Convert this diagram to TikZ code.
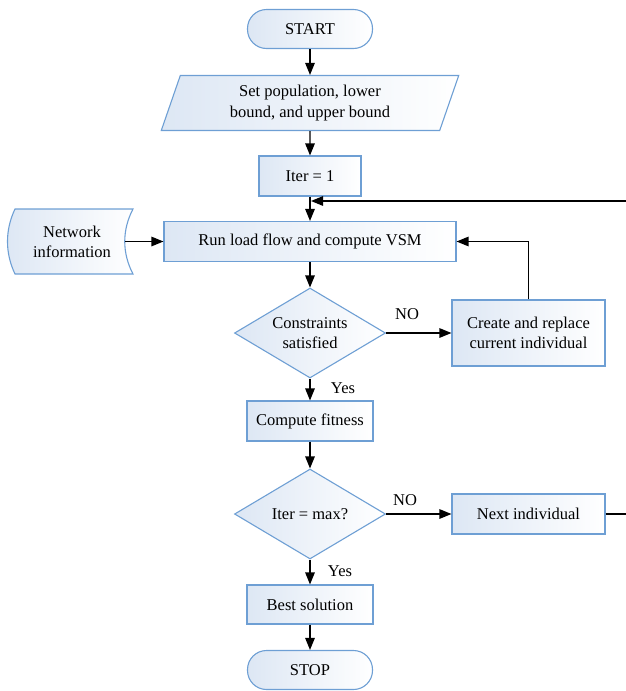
\documentclass[tikz,border=0pt]{standalone}
\usepackage{fontspec}
\setmainfont{Liberation Serif}
\usetikzlibrary{arrows.meta,shapes.geometric}
\definecolor{cLine}{HTML}{6E9FD4}
\definecolor{cFill}{HTML}{DDE7F4}

\begin{document}
\begin{tikzpicture}[x=1pt,y=-1pt,
  every node/.style={font=\fontsize{16.5}{20.5}\selectfont, align=center},
  box/.style={draw=cLine, line width=1.1pt, left color=cFill, right color=white, align=center, inner sep=2pt},
  terminal/.style={box, rounded corners=19pt, minimum width=125pt, minimum height=39pt},
  decision/.style={box, diamond, aspect=1.68, inner sep=0pt, minimum width=151pt, minimum height=90pt},
  arrow/.style={-{Triangle[length=12pt,width=9.5pt]}, line width=1.3pt},
]

\useasboundingbox (0,0) rectangle (625,691);

% main column
\node[terminal] (start) at (310,29) {START};
\node[box, trapezium, trapezium left angle=73, trapezium right angle=107, trapezium stretches=true,
      minimum width=298pt, minimum height=55pt] (param) at (310,103) {Set population, lower\\bound, and upper bound};
\node[box, minimum width=102pt, minimum height=40pt] (iter) at (310,176) {Iter = 1};
\node[box, minimum width=292pt, minimum height=40pt] (run) at (310,241.5) {Run load flow and compute VSM};
\node[decision] (cons) at (310,333) {Constraints\\satisfied};
\node[box, minimum width=126pt, minimum height=40pt] (fit) at (310,421) {Compute fitness};
\node[decision] (itermax) at (310,514) {Iter = max?};
\node[box, minimum width=126pt, minimum height=39pt] (best) at (310,604.5) {Best solution};
\node[terminal] (stop) at (310,670) {STOP};

% right column
\node[box, minimum width=153pt, minimum height=66pt] (create) at (528.5,333) {Create and replace\\current individual};
\node[box, minimum width=153pt, minimum height=40pt] (next) at (528.5,514) {Next individual};

% stored data
\path[box] (15,209) -- (133,209) .. controls (122,230) and (122,253) .. (133,274)
  -- (15,274) .. controls (5,253) and (5,230) .. (15,209) -- cycle;
\node (net) at (72,242) {Network\\information};
\coordinate (netR) at (125,241.5);
\coordinate (joint) at (311,201);

% labels
\node (no1) at (407,314) {NO};
\node (yes1) at (343,388) {Yes};
\node (no2) at (405,500) {NO};
\node (yes2) at (340,571) {Yes};

% connectors
\draw[arrow] (start) -- (param);
\draw[arrow] (param) -- (iter);
\draw[arrow] (iter) -- (run);
\draw[arrow] (netR) -- (run);
\draw[arrow] (run) -- (cons);
\draw[arrow] (cons) -- (create);
\draw[arrow] (create) |- (run);
\draw[arrow] (cons) -- (fit);
\draw[arrow] (fit) -- (itermax);
\draw[arrow] (itermax) -- (next);
\draw[arrow] (next.east) -- (640,514) |- (joint);
\draw[arrow] (itermax) -- (best);
\draw[arrow] (best) -- (stop);

\end{tikzpicture}
\end{document}
